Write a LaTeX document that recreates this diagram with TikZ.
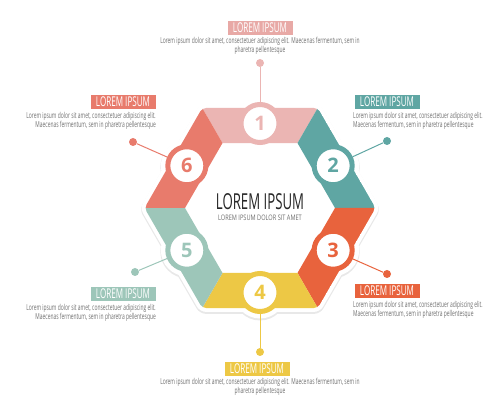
\documentclass[tikz,border=0pt]{standalone}
\usepackage{fontspec}
\setmainfont{Open Sans}
\newfontfamily\cond[FakeStretch=0.6]{Open Sans}
\newfontfamily\condw[FakeStretch=0.74]{Open Sans}
\usetikzlibrary{calc}
\definecolor{cA}{HTML}{EBB5B3}
\definecolor{cB}{HTML}{5FA6A3}
\definecolor{cC}{HTML}{E8633D}
\definecolor{cD}{HTML}{EDC845}
\definecolor{cE}{HTML}{9DC6B9}
\definecolor{cF}{HTML}{E87B6C}
\definecolor{bA}{HTML}{E8A9A6}
\definecolor{txtg}{HTML}{6E6E6E}
\tikzset{
  numring/.style={circle, fill=white, draw=#1, line width=5pt, minimum size=38pt, inner sep=0pt,
     text=#1, font=\fontsize{20}{20}\selectfont\bfseries},
  dotn/.style={circle, fill=#1, minimum size=8pt, inner sep=0pt},
  conn/.style={draw=#1, line width=1pt},
  titlebox/.style={fill=#1, text=white, minimum width=65pt, minimum height=14pt, inner sep=0pt,
     font=\cond\fontsize{13.5}{13.5}\selectfont},
  body/.style={text=txtg, font=\cond\fontsize{8.2}{7.4}\selectfont, inner sep=0pt},
}
\begin{document}
\begin{tikzpicture}[x=1pt,y=1pt]
\useasboundingbox (0,0) rectangle (500,411);
\begin{scope}[shift={(260,203)}]
  % shadow
  \fill[gray!18, rounded corners=6] ($(0:120.5)+(0,-1.5)$) -- ($(60:120.5)+(0,-1.5)$) -- ($(120:120.5)+(0,-1.5)$) -- ($(180:120.5)+(0,-1.5)$) -- ($(240:120.5)+(0,-1.5)$) -- ($(300:120.5)+(0,-1.5)$) -- cycle;
  \foreach \a in {90,30,-30,-90,-150,150}{
    \fill[gray!18] ($(\a:84.5)+(0,-1.5)$) circle (26.5);
  }
  % white border
  \fill[white, rounded corners=6] (0:120) -- (60:120) -- (120:120) -- (180:120) -- (240:120) -- (300:120) -- cycle;
  \foreach \a in {90,30,-30,-90,-150,150}{
    \fill[white] (\a:84.5) circle (26);
  }
  % segments
  \begin{scope}
    \clip[rounded corners=4] (0:115.5) -- (60:115.5) -- (120:115.5) -- (180:115.5) -- (240:115.5) -- (300:115.5) -- cycle;
    \fill[cA] (60:116) -- (120:116) -- (120:75) -- (60:75) -- cycle;
    \fill[cB] (0:116) -- (60:116) -- (60:75) -- (0:75) -- cycle;
    \fill[cC] (-60:116) -- (0:116) -- (0:75) -- (-60:75) -- cycle;
    \fill[cD] (-120:116) -- (-60:116) -- (-60:75) -- (-120:75) -- cycle;
    \fill[cE] (180:116) -- (240:116) -- (240:75) -- (180:75) -- cycle;
    \fill[cF] (120:116) -- (180:116) -- (180:75) -- (120:75) -- cycle;
  \end{scope}
  % number circles
  \node[numring=cA] (n1) at (90:84.5) {1};
  \node[numring=cB] (n2) at (30:84.5) {2};
  \node[numring=cC] (n3) at (-30:84.5) {3};
  \node[numring=cD] (n4) at (-90:84.5) {4};
  \node[numring=cE] (n5) at (-150:84.5) {5};
  \node[numring=cF] (n6) at (150:84.5) {6};
  % centre text
  \node[text=black!85, font=\cond\fontsize{22}{22}\selectfont, inner sep=0pt] (ct) at (0,6) {LOREM IPSUM};
  \node[text=txtg, font=\condw\fontsize{7.6}{7.6}\selectfont, inner sep=0pt] (cs) at (0,-9.5) {LOREM IPSUM DOLOR SIT AMET};
\end{scope}
% dots
\node[dotn=cA] (d1) at (260,348) {};
\node[dotn=cB] (d2) at (387,270) {};
\node[dotn=cC] (d3) at (387,137) {};
\node[dotn=cD] (d4) at (260,59) {};
\node[dotn=cE] (d5) at (135,139) {};
\node[dotn=cF] (d6) at (133,269) {};
\draw[conn=cA] (d1) -- (n1);
\draw[conn=cB] (d2) -- (n2);
\draw[conn=cC] (d3) -- (n3);
\draw[conn=cD] (d4) -- (n4);
\draw[conn=cE] (d5) -- (n5);
\draw[conn=cF] (d6) -- (n6);
% labels
\node[titlebox=bA] (t1) at (260,383) {LOREM IPSUM};
\node[body, align=center, anchor=north] (p1) at (260,374) {Lorem ipsum dolor sit amet, consectetuer adipiscing elit. Maecenas fermentum, sem in\\pharetra pellentesque};
\node[titlebox=cF] (t6) at (123,309) {LOREM IPSUM};
\node[body, align=right, anchor=north east] (p6) at (156,299) {Lorem ipsum dolor sit amet, consectetuer adipiscing elit.\\Maecenas fermentum, sem in pharetra pellentesque};
\node[titlebox=cB] (t2) at (387,309) {LOREM IPSUM};
\node[body, align=left, anchor=north west] (p2) at (353,299) {Lorem ipsum dolor sit amet, consectetuer adipiscing elit.\\Maecenas fermentum, sem in pharetra pellentesque};
\node[titlebox=cE] (t5) at (123,117) {LOREM IPSUM};
\node[body, align=right, anchor=north east] (p5) at (156,107) {Lorem ipsum dolor sit amet, consectetuer adipiscing elit.\\Maecenas fermentum, sem in pharetra pellentesque};
\node[titlebox=cC] (t3) at (387,120) {LOREM IPSUM};
\node[body, align=left, anchor=north west] (p3) at (353,110) {Lorem ipsum dolor sit amet, consectetuer adipiscing elit.\\Maecenas fermentum, sem in pharetra pellentesque};
\node[titlebox=cD] (t4) at (257,42) {LOREM IPSUM};
\node[body, align=center, anchor=north] (p4) at (260,33) {Lorem ipsum dolor sit amet, consectetuer adipiscing elit. Maecenas fermentum, sem in\\pharetra pellentesque};
\end{tikzpicture}
\end{document}
